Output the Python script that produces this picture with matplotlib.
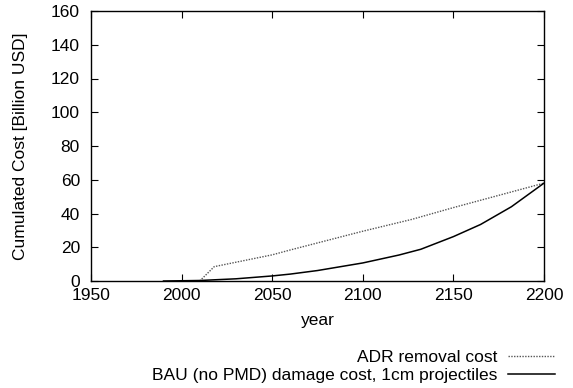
import matplotlib
matplotlib.use("Agg")
import matplotlib.pyplot as plt

plt.rcParams['font.family'] = ['Liberation Sans', 'DejaVu Sans']
plt.rcParams['font.size'] = 12.5

# ADR removal cost (cumulated, billion USD)
adr_years = [2010, 2018, 2050, 2060, 2100, 2127, 2150, 2200]
adr_cost = [0.0, 8.5, 15.5, 18.4, 29.5, 36.5, 43.5, 58.0]

# BAU (no PMD) damage cost, 1cm projectiles
bau_years = [1990, 2010, 2030, 2050, 2060, 2075, 2100, 2120, 2132, 2150, 2165, 2182, 2200]
bau_cost = [0.0, 0.3, 1.3, 3.0, 4.1, 6.2, 10.7, 15.4, 18.8, 26.3, 33.5, 44.0, 58.0]

xticks = [1950, 2000, 2050, 2100, 2150, 2200]
yticks = [0, 20, 40, 60, 80, 100, 120, 140, 160]

fig = plt.figure(figsize=(5.73, 3.88), dpi=100)
ax = fig.add_axes([91/573, 1-281/388, (544-91)/573, (281-11)/388])

ax.plot(adr_years, adr_cost, linestyle=(0, (1, 1)), color='#555555', lw=1.0,
        label='ADR removal cost')
ax.plot(bau_years, bau_cost, linestyle='-', color='black', lw=1.1,
        label='BAU (no PMD) damage cost, 1cm projectiles')

ax.set_xlim(1950, 2200)
ax.set_ylim(0, 160)
ax.set_xticks(xticks)
ax.set_yticks(yticks)
ax.tick_params(direction='in', top=True, right=True, length=5, width=0.8)
ax.tick_params(axis='x', pad=5)
ax.tick_params(axis='y', pad=8)
for s in ax.spines.values():
    s.set_linewidth(1.0)
ax.set_xlabel('year')
ax.xaxis.set_label_coords(0.5, -0.12)
ax.set_ylabel('Cumulated Cost [Billion USD]')
ax.yaxis.set_label_coords(-0.138, 0.5)

fig.legend(loc='center right', bbox_to_anchor=(555/573, 1-366.5/388),
           frameon=False, markerfirst=False, handlelength=2.7,
           handletextpad=0.63, labelspacing=0.13, borderpad=0, borderaxespad=0)

fig.savefig('out.png', dpi=100)
